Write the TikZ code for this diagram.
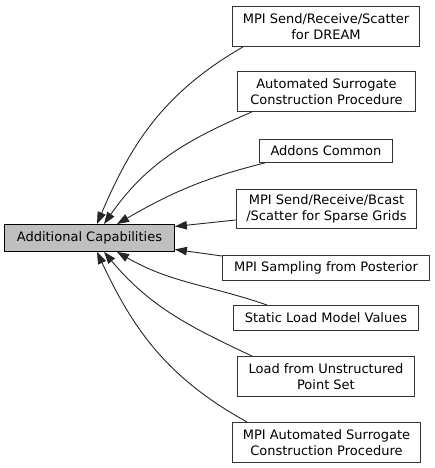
\documentclass[tikz,border=0pt]{standalone}
\usepackage{fontspec}
\setmainfont{DejaVu Sans}
\usetikzlibrary{arrows.meta}
\begin{document}
\begin{tikzpicture}[x=1pt,y=-1pt,
  box/.style={draw=black!80, fill=white, line width=0.9pt, anchor=north west, inner sep=0pt, align=center, font=\fontsize{13}{16}\selectfont},
  mainbox/.style={box, fill=black!25, draw=black},
  edge/.style={draw=black!85, line width=0.9pt, -{Triangle[length=12pt,width=8.5pt]}}]
\useasboundingbox (0,0) rectangle (435,468);
\node[mainbox, minimum width=170pt, minimum height=27pt] (main) at (4,224) {Additional Capabilities};
\node[box, minimum width=187pt, minimum height=40pt] (b1) at (232,6) {MPI Send/Receive/Scatter\\for DREAM};
\node[box, minimum width=178pt, minimum height=40pt] (b2) at (237,71) {Automated Surrogate\\ Construction Procedure};
\node[box, minimum width=133pt, minimum height=23pt] (b3) at (259,139) {Addons Common};
\node[box, minimum width=180pt, minimum height=39pt] (b4) at (236,189) {MPI Send/Receive/Bcast\\/Scatter for Sparse Grids};
\node[box, minimum width=207pt, minimum height=25pt] (b5) at (222,255) {MPI Sampling from Posterior};
\node[box, minimum width=185pt, minimum height=25pt] (b6) at (233,305) {Static Load Model Values};
\node[box, minimum width=177pt, minimum height=40pt] (b7) at (237,356) {Load from Unstructured\\Point Set};
\node[box, minimum width=188pt, minimum height=40pt] (b8) at (232,422) {MPI Automated Surrogate\\Construction Procedure};
\draw[edge] ([xshift=11pt]b1.south west) to[out=210,in=67] ([xshift=93pt]main.north west);
\draw[edge] ([xshift=15pt]b2.south west) to[out=203,in=55] ([xshift=100pt]main.north west);
\draw[edge] ([xshift=6pt]b3.south west) to[out=194,in=30] ([xshift=113pt]main.north west);
\draw[edge] ([yshift=-11pt]b4.west) -- ([yshift=11.5pt]main.east);
\draw[edge] ([yshift=-1pt]b5.north west) -- ([yshift=-11.5pt]main.east);
\draw[edge] ([xshift=34pt]b6.north west) to[out=161,in=-30] ([xshift=113pt]main.south west);
\draw[edge] ([xshift=15pt]b7.north west) to[out=155,in=-50] ([xshift=100pt]main.south west);
\draw[edge] ([xshift=15pt]b8.north west) to[out=151,in=-65] ([xshift=93pt]main.south west);
\end{tikzpicture}
\end{document}
